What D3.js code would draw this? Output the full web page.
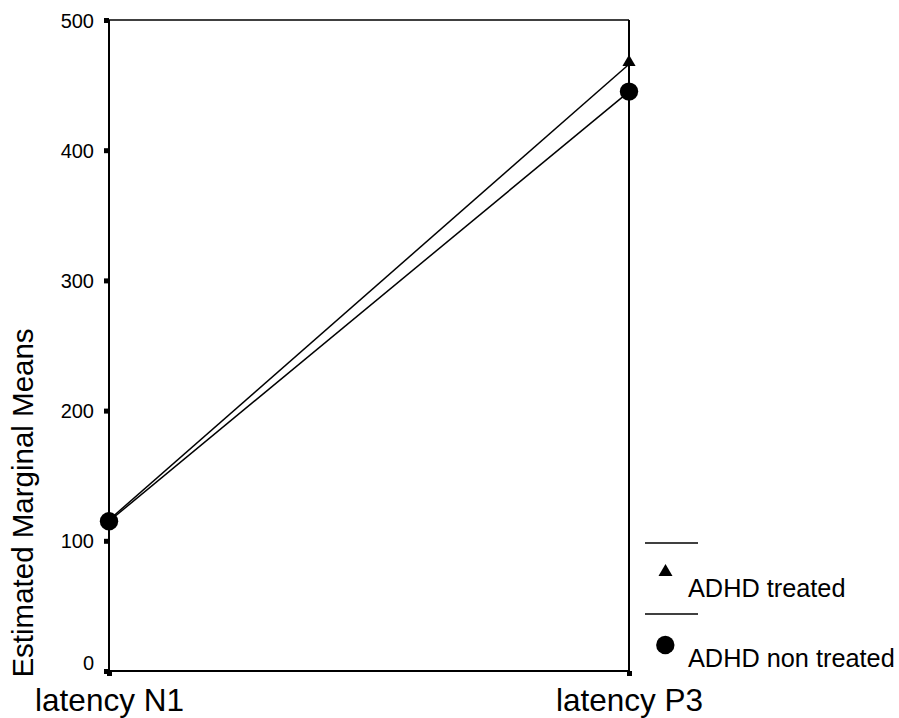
<!DOCTYPE html>
<html><head><meta charset="utf-8">
<script src="https://cdn.jsdelivr.net/npm/d3@7"></script>
<style>body{margin:0;background:#fff}svg{display:block}text{font-family:"Liberation Sans",Arial,sans-serif;fill:#000}</style>
</head><body>
<script>
const categories = ["latency N1", "latency P3"];
const treated = [116, 466];
const nonTreated = [115, 445];
const yTicks = [0, 100, 200, 300, 400, 500];
const seriesNames = ["ADHD treated", "ADHD non treated"];

const W = 899, H = 718;
const svg = d3.select("body").append("svg").attr("width", W).attr("height", H);
const x = d3.scalePoint().domain(categories).range([109, 629]);
const y = d3.scaleLinear().domain([0, 500]).range([671, 20]);

// frame: top and right
svg.append("line").attr("x1", x(categories[0])).attr("x2", x(categories[1])).attr("y1", y(500)).attr("y2", y(500)).attr("stroke", "#000").attr("stroke-width", 1.6);
svg.append("line").attr("x1", x(categories[1])).attr("x2", x(categories[1])).attr("y1", y(500)).attr("y2", y(0)).attr("stroke", "#000").attr("stroke-width", 2);

// y axis
const ya = svg.append("g").attr("transform", `translate(${x(categories[0])},0)`)
  .call(d3.axisLeft(y).tickValues(yTicks).tickSize(5).tickPadding(10).tickFormat(d3.format("d")));
ya.select(".domain").attr("stroke", "#000").attr("stroke-width", 2).attr("d", `M0,${y(0)}V${y(500)}`);
ya.selectAll(".tick line").attr("stroke", "#000").attr("stroke-width", 5);
ya.selectAll(".tick text").attr("font-size", 20).attr("font-family", null).attr("fill", "#000")
  .attr("dy", d => d === 0 ? "-0.1em" : "0.35em");

// x axis
const xa = svg.append("g").attr("transform", `translate(0,${y(0)})`)
  .call(d3.axisBottom(x).tickSize(5).tickPadding(10));
xa.select(".domain").attr("stroke", "#000").attr("stroke-width", 2).attr("d", `M${x(categories[0])},0H${x(categories[1])}`);
xa.selectAll(".tick line").attr("stroke", "#000").attr("stroke-width", 5);
xa.selectAll(".tick text").attr("font-size", 31.5).attr("font-family", null).attr("fill", "#000").attr("y", 40).attr("dy", 0);

// y label
svg.append("text").attr("transform", `translate(33,503) rotate(-90)`).attr("text-anchor", "middle")
  .attr("font-size", 29.5).text("Estimated Marginal Means");

// series
const line = d3.line().x((d, i) => x(categories[i])).y(d => y(d));
svg.append("path").datum(treated).attr("d", line).attr("fill", "none").attr("stroke", "#000").attr("stroke-width", 1.5);
svg.append("path").datum(nonTreated).attr("d", line).attr("fill", "none").attr("stroke", "#000").attr("stroke-width", 1.5);
const tri = d3.symbol().type(d3.symbolTriangle).size(75);
svg.selectAll(".tri").data(treated).join("path").attr("d", tri)
  .attr("transform", (d, i) => `translate(${x(categories[i])},${y(d) - 2})`).attr("fill", "#000");
svg.selectAll(".dot").data(nonTreated).join("circle").attr("cx", (d, i) => x(categories[i])).attr("cy", d => y(d))
  .attr("r", 9.2).attr("fill", "#000");

// legend
const lg = svg.append("g");
[543, 614].forEach(ly => lg.append("line").attr("x1", 645).attr("x2", 698).attr("y1", ly).attr("y2", ly).attr("stroke", "#000").attr("stroke-width", 1.5));
lg.append("path").attr("d", d3.symbol().type(d3.symbolTriangle).size(85)).attr("transform", "translate(665.5,572)").attr("fill", "#000");
lg.append("circle").attr("cx", 665.3).attr("cy", 645).attr("r", 9.2).attr("fill", "#000");
lg.append("text").attr("x", 688).attr("y", 597).attr("font-size", 25.3).text(seriesNames[0]);
lg.append("text").attr("x", 688).attr("y", 667).attr("font-size", 25.3).text(seriesNames[1]);
</script>
</body></html>
